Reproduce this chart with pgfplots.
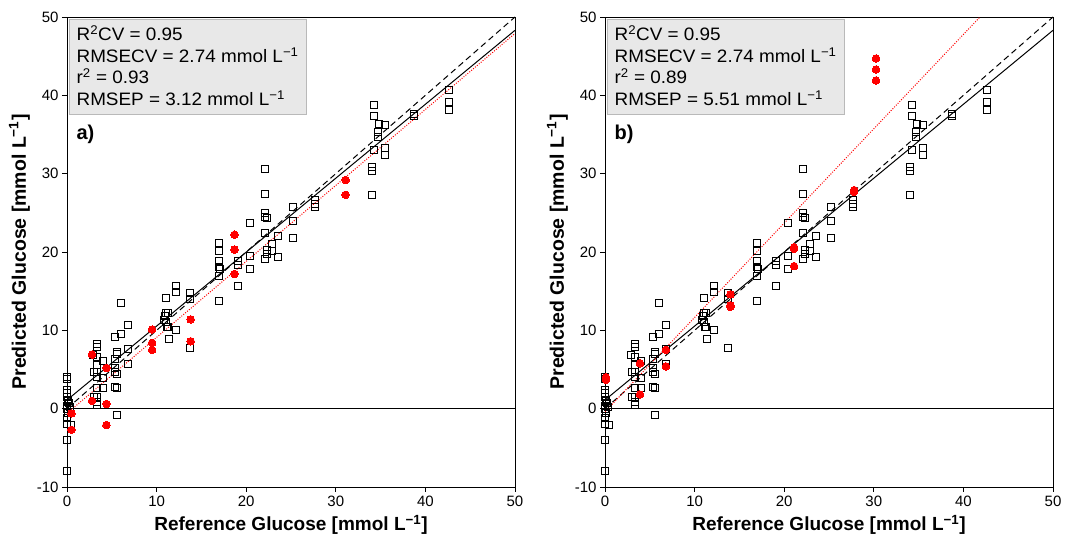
\documentclass[border=0pt]{standalone}
\usepackage{pgfplots}
\pgfplotsset{compat=1.18}
\usepackage{fontspec}
\setmainfont{Liberation Sans}
\newfontfamily\boxfont[FakeStretch=1.05]{Liberation Sans}

\pgfplotstableread{
x y
0 4.1
0 3.8
0 2.4
0 2.0
0 1.5
0.1 1.0
0.2 0.7
0 0.4
0.3 0.2
0 0
0.1 -0.6
0 -1.2
0 -1.9
0.4 -2.1
0 -4.0
0 -8.0
2.9 6.9
3.0 4.7
3.0 1.5
3.3 8.3
3.3 7.9
3.3 6.6
3.3 5.6
3.3 4.7
3.3 4.1
3.3 2.6
3.3 1.5
3.3 0.9
3.3 0.5
4.0 6.1
4.0 3.9
4.0 2.6
5.4 9.2
5.6 7.3
5.6 7.0
5.4 6.4
5.4 5.2
5.4 4.7
5.6 4.5
5.4 2.8
5.6 2.7
5.6 -0.8
6.0 13.5
6.0 9.6
6.8 10.7
6.8 7.6
6.8 5.7
11.0 14.2
11.0 12.2
11.3 12.2
10.9 11.8
10.8 11.3
11.0 11.1
11.1 10.5
11.3 10.5
11.4 8.9
12.2 15.7
12.2 14.9
12.2 10.0
13.7 14.8
13.7 14.0
13.7 7.8
16.9 21.1
16.9 20.1
16.9 18.8
16.9 18.1
17.1 17.9
16.9 17.0
16.9 13.7
19.1 18.8
19.1 18.4
19.1 15.7
20.4 23.7
20.4 19.5
20.4 17.8
22.1 30.6
22.1 27.4
22.1 25.0
22.1 24.5
22.3 24.3
22.1 22.4
22.3 20.3
22.3 19.8
22.1 19.1
22.9 21.0
22.9 20.1
23.5 22.1
23.5 19.4
25.2 25.7
25.2 24.0
25.2 21.8
27.7 26.7
27.7 26.2
27.7 25.7
34.2 38.8
34.2 37.4
34.8 36.4
35.5 36.2
34.7 35.3
34.7 34.7
34.2 33.0
35.5 33.3
35.5 32.4
34.0 30.8
34.0 30.4
34.0 27.3
38.7 37.6
38.7 37.4
42.6 40.7
42.6 39.2
42.6 38.1
}\calib

\pgfplotstableread{
x y
0.5 -0.6
0.5 -2.7
2.8 6.9
2.8 1.0
4.4 5.2
4.4 0.6
4.4 -2.1
9.5 10.1
9.5 8.4
9.5 7.5
13.8 11.4
13.8 8.6
18.7 22.2
18.7 20.3
18.7 17.2
31.1 29.2
31.1 27.3
}\testa

\pgfplotstableread{
x y
0.1 4.0
0.1 3.7
3.9 5.8
3.9 1.8
6.8 7.5
6.8 5.4
14.0 14.6
14.0 13.2
14.0 13.0
21.1 20.6
21.1 20.4
21.1 18.2
27.8 27.9
27.8 27.7
30.25 44.7
30.25 43.3
30.25 41.9
}\testb

\pgfplotsset{
  myax/.style={
    scale only axis, width=448pt, height=470pt,
    anchor=south west,
    xmin=0, xmax=50, ymin=-10, ymax=50,
    xtick={0,10,...,50}, ytick={-10,0,...,50},
    tick align=outside, xtick pos=lower, ytick pos=left,
    major tick length=5pt,
    tick style={black, line width=0.8pt},
    axis line style={black, line width=0.8pt},
    /pgf/number format/assume math mode=true,
    ticklabel style={font=\fontsize{15}{17}\selectfont},
    xlabel={Reference Glucose [mmol L\textsuperscript{\char"2212 1}]},
    ylabel={Predicted Glucose [mmol L\textsuperscript{\char"2212 1}]},
    xlabel style={font=\bfseries\fontsize{19}{22}\selectfont, yshift=-2pt},
    ylabel style={font=\bfseries\fontsize{19.5}{22}\selectfont},
  },
  sq/.style={only marks, mark=square, mark size=3.5pt, black, line width=0.8pt},
  rd/.style={only marks, mark=*, mark size=3.8pt, color=red, mark options={draw=red, fill=red, line width=0pt}},
}

\newcommand{\statbox}[2]{%
  \draw[fill=gray!18, draw=gray!55, line width=0.6pt] (axis cs:0.22,49.75) rectangle (axis cs:26.7,37.6);
  \node[anchor=base west, inner sep=0pt, font=\boxfont\fontsize{18}{20}\selectfont] at (axis cs:1.05,46.96) {R\textsuperscript{2}CV = 0.95};
  \node[anchor=base west, inner sep=0pt, font=\boxfont\fontsize{18}{20}\selectfont] at (axis cs:1.05,44.19) {RMSECV = 2.74 mmol L\textsuperscript{\char"2212 1}};
  \node[anchor=base west, inner sep=0pt, font=\boxfont\fontsize{18}{20}\selectfont] at (axis cs:1.05,41.47) {r\textsuperscript{2} = #1};
  \node[anchor=base west, inner sep=0pt, font=\boxfont\fontsize{18}{20}\selectfont] at (axis cs:1.05,38.66) {RMSEP = #2 mmol L\textsuperscript{\char"2212 1}};
}

\begin{document}
\begin{tikzpicture}
\useasboundingbox (0,0) rectangle (1066pt,537pt);

\begin{axis}[myax, at={(67pt,50pt)}]
  \addplot[sq] table {\calib};
  \addplot[rd] table {\testa};
  \addplot[black, line width=0.8pt] coordinates {(0,0) (50,0)};
  \addplot[black, line width=1pt, dash pattern=on 6pt off 4pt] coordinates {(0,0) (50,50)};
  \addplot[black, line width=1pt] coordinates {(0,1.1) (50,48.3)};
  \addplot[red, line width=1pt, dash pattern=on 1pt off 1.5pt] coordinates {(0,-0.6) (50,47.9)};
  \statbox{0.93}{3.12}
  \node[anchor=base west, inner sep=0pt, font=\bfseries\fontsize{20}{22}\selectfont] at (axis cs:1.05,34.4) {a)};
\end{axis}

\begin{axis}[myax, at={(605pt,50pt)}]
  \addplot[sq] table {\calib};
  \addplot[rd] table {\testb};
  \addplot[black, line width=0.8pt] coordinates {(0,0) (50,0)};
  \addplot[black, line width=1pt, dash pattern=on 6pt off 4pt] coordinates {(0,0) (50,50)};
  \addplot[black, line width=1pt] coordinates {(0,1.1) (50,48.3)};
  \addplot[red, line width=1pt, dash pattern=on 1pt off 1.5pt] coordinates {(0,-0.4) (41.85,50)};
  \statbox{0.89}{5.51}
  \node[anchor=base west, inner sep=0pt, font=\bfseries\fontsize{20}{22}\selectfont] at (axis cs:1.05,34.4) {b)};
\end{axis}
\end{tikzpicture}
\end{document}
